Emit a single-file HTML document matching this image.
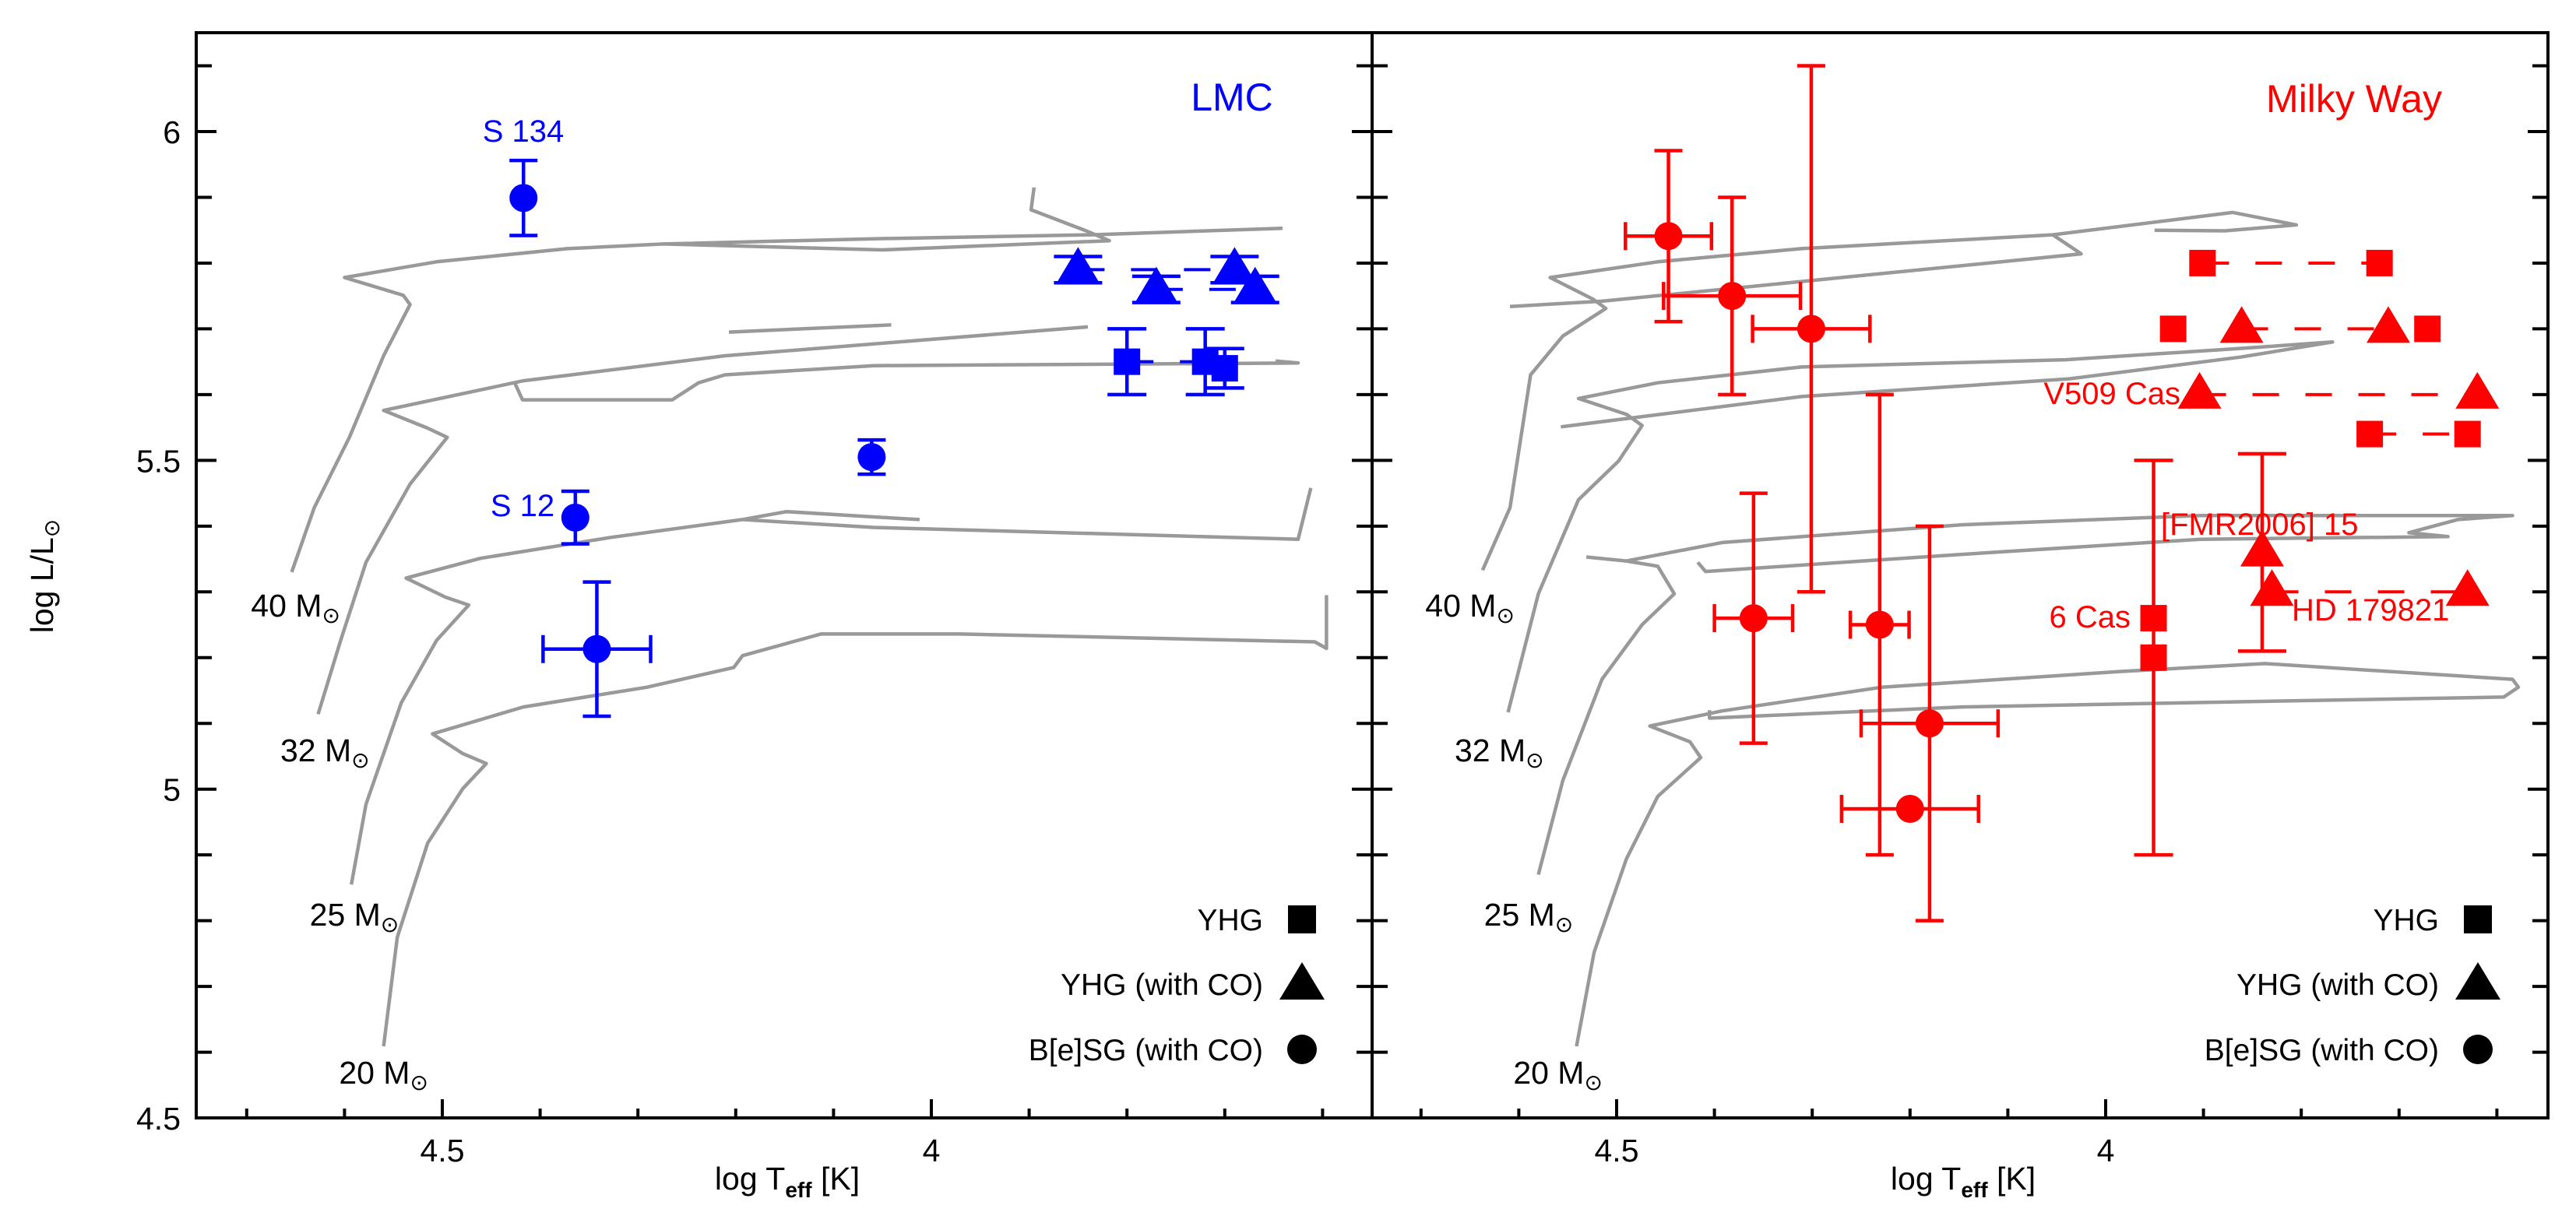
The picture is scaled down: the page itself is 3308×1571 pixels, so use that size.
<!DOCTYPE html>
<html><head><meta charset="utf-8"><style>
html,body{margin:0;padding:0;background:#fff;}
svg{display:block;font-family:"Liberation Sans",sans-serif;}
</style></head><body>
<svg id="chart" width="3308" height="1571" viewBox="0 0 3308 1571" xmlns="http://www.w3.org/2000/svg">
<g id="root"></g>
</svg>
<script>
// ---------- data (log Teff, log L/Lsun) ----------
// LMC
const lmcCircT = [4.417, 4.364, 4.342, 4.061];
const lmcCircL = [5.899, 5.413, 5.213, 5.505];
const lmcCircLerr = [0.057, 0.040, 0.102, 0.026];
const lmcCircTerr = [0, 0, 0.055, 0];
const lmcTriT = [3.850, 3.770, 3.690, 3.669];
const lmcTriL = [5.790, 5.760, 5.790, 5.760];
const lmcTriLerr = [0.02, 0.02, 0.02, 0.02];
const lmcSqT = [3.800, 3.720, 3.700];
const lmcSqL = [5.650, 5.650, 5.640];
const lmcSqLerr = [0.05, 0.05, 0.03];
const lmcPairs = [[3.850, 3.690, 5.790], [3.770, 3.669, 5.760], [3.800, 3.720, 5.650]];
// Milky Way
const mwCircT = [4.447, 4.382, 4.301, 4.360, 4.231, 4.180, 4.200];
const mwCircL = [5.841, 5.750, 5.700, 5.260, 5.250, 5.100, 4.970];
const mwCircLerr = [0.13, 0.15, 0.40, 0.19, 0.35, 0.30, 0];
const mwCircTerr = [0.044, 0.07, 0.06, 0.04, 0.03, 0.07, 0.07];
const mwSqT = [3.951, 3.951, 3.901, 3.720, 3.931, 3.671, 3.730, 3.630];
const mwSqL = [5.260, 5.200, 5.800, 5.800, 5.700, 5.700, 5.540, 5.540];
const mwSqLerr = [0, 0.30, 0, 0, 0, 0, 0, 0];
const mwTriT = [3.861, 3.711, 3.904, 3.620, 3.840, 3.830, 3.630];
const mwTriL = [5.700, 5.700, 5.600, 5.600, 5.360, 5.300, 5.300];
const mwTriLerr = [0, 0, 0, 0, 0.15, 0, 0];
const mwPairs = [[3.901, 3.720, 5.800], [3.861, 3.711, 5.700], [3.904, 3.620, 5.600], [3.730, 3.630, 5.540], [3.830, 3.630, 5.300]];
// evolutionary tracks
const lmcTracks = [
 [[4.654,5.330],[4.631,5.428],[4.595,5.535],[4.560,5.659],[4.533,5.737],[4.540,5.751],[4.600,5.778],[4.506,5.802],[4.372,5.822],[4.274,5.829],[4.059,5.837],[3.836,5.843],[3.641,5.853]],
 [[4.274,5.829],[4.050,5.820],[3.818,5.834],[3.840,5.848],[3.898,5.881],[3.895,5.915]],
 [[4.627,5.114],[4.604,5.226],[4.578,5.345],[4.533,5.464],[4.495,5.535],[4.515,5.549],[4.560,5.576],[4.417,5.621],[4.211,5.659],[3.840,5.703]],
 [[4.426,5.618],[4.418,5.592],[4.265,5.592],[4.238,5.618],[4.211,5.630],[4.059,5.644],[3.625,5.648],[3.648,5.651]],
 [[4.207,5.695],[4.041,5.706]],
 [[4.593,4.855],[4.578,4.977],[4.542,5.131],[4.506,5.226],[4.473,5.280],[4.497,5.292],[4.537,5.321],[4.461,5.351],[4.327,5.383],[4.193,5.410],[4.148,5.422],[4.059,5.414],[4.012,5.410]],
 [[4.193,5.410],[4.059,5.398],[3.625,5.380],[3.619,5.416],[3.612,5.458]],
 [[4.560,4.609],[4.546,4.775],[4.515,4.918],[4.479,5.001],[4.455,5.039],[4.479,5.054],[4.510,5.084],[4.417,5.125],[4.291,5.155],[4.202,5.185],[4.193,5.203],[4.113,5.236],[3.970,5.236],[3.608,5.224],[3.596,5.214],[3.596,5.295]]
];
const mwTracks = [
 [[4.637,5.333],[4.609,5.428],[4.588,5.630],[4.555,5.689],[4.511,5.731],[4.524,5.745],[4.568,5.778],[4.458,5.802],[4.311,5.822],[4.054,5.843],[3.870,5.877],[3.805,5.858],[3.878,5.849],[3.950,5.850]],
 [[4.609,5.734],[4.515,5.742],[4.311,5.772],[4.025,5.814],[4.054,5.843]],
 [[4.611,5.117],[4.580,5.297],[4.539,5.440],[4.498,5.499],[4.474,5.553],[4.490,5.570],[4.539,5.594],[4.458,5.618],[4.311,5.642],[4.041,5.653],[3.854,5.671],[3.768,5.680],[3.862,5.657],[4.037,5.624],[4.311,5.597],[4.557,5.551]],
 [[4.580,4.870],[4.555,5.013],[4.515,5.167],[4.474,5.250],[4.441,5.297],[4.458,5.339],[4.490,5.347],[4.531,5.353]],
 [[4.490,5.347],[4.392,5.375],[4.147,5.402],[3.903,5.416],[3.584,5.416],[3.640,5.410],[3.690,5.390],[3.650,5.384],[3.903,5.380],[4.147,5.357],[4.409,5.331],[4.417,5.345]],
 [[4.541,4.609],[4.523,4.752],[4.490,4.894],[4.458,4.989],[4.414,5.048],[4.425,5.072],[4.466,5.096],[4.392,5.119],[4.229,5.155],[3.984,5.179],[3.837,5.191],[3.584,5.167],[3.578,5.155],[3.593,5.140],[3.821,5.134],[4.147,5.125],[4.405,5.108],[4.405,5.120]]
];
const xTicksMajor = [4.5, 4.0];
const xTickLabels = ["4.5", "4"];
const yTicksMajor = [4.5, 5.0, 5.5, 6.0];
const yTickLabels = ["4.5", "5", "5.5", "6"];
const massLabels = ["40", "32", "25", "20"];

// ---------- axes ----------
const NS = "http://www.w3.org/2000/svg";
const root = document.getElementById('root');
const TOP = 42, BOT = 1436;
const yS = L => 169 + (6 - L) * 844.7;
const xL = T => 1196 + (4 - T) * 1256;
const xR = T => 2704 + (4 - T) * 1256;
function mk(tag, attrs, parent) {
  const e = document.createElementNS(NS, tag);
  for (const k in attrs) e.setAttribute(k, attrs[k]);
  (parent || root).appendChild(e);
  return e;
}
function txt(x, y, s, size, fill, anchor, parent) {
  const t = mk('text', {x: x, y: y, 'font-size': size, fill: fill, 'text-anchor': anchor || 'middle'}, parent);
  t.textContent = s;
  return t;
}

function panel(name, xf, x0, x1, color, circT, circL, circLe, circTe, sqT, sqL, sqLe, triT, triL, triLe, pairs, tracks) {
  const g = mk('g', {});
  
  
  const tg = mk('g', {fill: 'none', stroke: '#999999', 'stroke-width': 4.5, 'stroke-linejoin': 'round'}, g);
  
  
  tracks.forEach(tr => {
    const p = mk('polyline', {points: tr.map(q => xf(q[0]).toFixed(1) + ',' + yS(q[1]).toFixed(1)).join(' ')}, tg);
    
    
  });
  const ml = [[4.65, 5.28], [4.62, 5.06], [4.59, 4.81], [4.56, 4.57]];
  massLabels.forEach((m, i) => {
    const t = mk('text', {x: xf(ml[i][0]), y: yS(ml[i][1]) + 15, 'font-size': 41, fill: '#000', 'text-anchor': 'middle'}, g);
    
    
    t.textContent = m + ' M';
    const s = mk('tspan', {'font-size': 28, dy: 8}, t);
    s.textContent = '⊙';
  });
  const dg = mk('g', {stroke: color, 'stroke-width': 4, 'stroke-dasharray': '34 34'}, g);
  
  
  pairs.forEach(p => {
    const l = mk('line', {x1: xf(p[0]), y1: yS(p[2]), x2: xf(p[1]), y2: yS(p[2])}, dg);
    
    
  });
  const eg = mk('g', {stroke: color, 'stroke-width': 4.5, fill: 'none'}, g);
  
  
  function err(T, L, le, te, cap) {
    const x = xf(T), y = yS(L);
    if (le > 0) {
      const ya = yS(L + le), yb = yS(L - le);
      mk('line', {x1: x, y1: ya, x2: x, y2: yb}, eg);
      mk('line', {x1: x - cap, y1: ya, x2: x + cap, y2: ya}, eg);
      mk('line', {x1: x - cap, y1: yb, x2: x + cap, y2: yb}, eg);
    }
    if (te > 0) {
      const xa = xf(T + te), xb = xf(T - te);
      mk('line', {x1: xa, y1: y, x2: xb, y2: y}, eg);
      mk('line', {x1: xa, y1: y - 18, x2: xa, y2: y + 18}, eg);
      mk('line', {x1: xb, y1: y - 18, x2: xb, y2: y + 18}, eg);
    }
  }
  circT.forEach((T, i) => {
    err(T, circL[i], circLe[i], circTe[i], 18);
    const c = mk('circle', {cx: xf(T), cy: yS(circL[i]), r: 18, fill: color}, g);
    
    
  });
  sqT.forEach((T, i) => {
    err(T, sqL[i], sqLe[i], 0, 25);
    const r = mk('rect', {x: xf(T) - 17, y: yS(sqL[i]) - 17, width: 34, height: 34, fill: color}, g);
    
    
  });
  triT.forEach((T, i) => {
    err(T, triL[i], triLe[i], 0, 31);
    const x = xf(T), y = yS(triL[i]);
    const p = mk('polygon', {points: `${x},${y - 29} ${x - 28},${y + 18} ${x + 28},${y + 18}`, fill: color}, g);
    
    
  });
  const ax = mk('g', {stroke: '#000', 'stroke-width': 4}, g);
  
  
  mk('rect', {x: x0, y: TOP, width: x1 - x0, height: BOT - TOP, fill: 'none'}, ax);
  for (let k = 36; k <= 47; k++) {
    const T = k / 10, x = xf(T);
    if (x < x0 + 2 || x > x1 - 2) continue;
    const major = (k % 5 === 0);
    mk('line', {x1: x, y1: BOT, x2: x, y2: BOT - (major ? 24 : 12)}, ax);
  }
  for (let k = 45; k <= 61; k++) {
    const y = yS(k / 10);
    const len = (k % 5 === 0) ? 26 : 20;
    mk('line', {x1: x0, y1: y, x2: x0 + len, y2: y}, ax);
    mk('line', {x1: x1, y1: y, x2: x1 - len, y2: y}, ax);
  }
  xTicksMajor.forEach((T, i) => {
    const t = txt(xf(T), BOT + 56, xTickLabels[i], 41, '#000', 'middle', g);
    
    
  });
  const xt = mk('text', {x: (x0 + x1) / 2 + 4, y: 1528, 'font-size': 41, fill: '#000', 'text-anchor': 'middle'}, g);
  
  
  xt.textContent = 'log T';
  const sb = mk('tspan', {'font-size': 28, dy: 10, 'font-weight': 'bold'}, xt); sb.textContent = 'eff';
  const rs = mk('tspan', {dy: -10}, xt); rs.textContent = ' [K]';
  const lx = x1 - 90, tx = x1 - 140;
  const lg = mk('g', {}, g);
  
  
  [['YHG', 1181], ['YHG (with CO)', 1264], ['B[e]SG (with CO)', 1348]].forEach((e, i) => {
    const t = txt(tx, e[1] + 14, e[0], 39, '#000', 'end', lg);
    
    
  });
  mk('rect', {x: lx - 18, y: 1163, width: 36, height: 36, fill: '#000'}, lg);
  mk('polygon', {points: `${lx},${1236} ${lx - 29},${1284} ${lx + 29},${1284}`, fill: '#000'}, lg);
  mk('circle', {cx: lx, cy: 1348, r: 19, fill: '#000'}, lg);
  return g;
}

const gl = panel('lmc', xL, 252, 1762, '#0000ff', lmcCircT, lmcCircL, lmcCircLerr, lmcCircTerr, lmcSqT, lmcSqL, lmcSqLerr, lmcTriT, lmcTriL, lmcTriLerr, lmcPairs, lmcTracks);
const gr = panel('milky-way', xR, 1762, 3272, '#ff0000', mwCircT, mwCircL, mwCircLerr, mwCircTerr, mwSqT, mwSqL, mwSqLerr, mwTriT, mwTriL, mwTriLerr, mwPairs, mwTracks);

yTicksMajor.forEach((L, i) => {
  const t = txt(232, yS(L) + 15, yTickLabels[i], 41, '#000', 'end');
  
  
});
const yt = mk('text', {x: 0, y: 0, 'font-size': 41, fill: '#000', 'text-anchor': 'middle', transform: 'translate(68,740) rotate(-90)'});


yt.textContent = 'log L/L';
const ys = mk('tspan', {'font-size': 28, dy: 8}, yt); ys.textContent = '⊙';

function label(x, y, s, size, color, anchor, name) {
  const t = txt(x, y, s, size, color, anchor);
  
  
}
label(1582, 142, 'LMC', 50, '#0000ff', 'middle', 'lmc-title');
label(3023, 144, 'Milky Way', 50, '#ff0000', 'middle', 'milky-way-title');
label(672, 182, 'S 134', 40, '#0000ff', 'middle', 's134-label');
label(671, 663, 'S 12', 40, '#0000ff', 'middle', 's12-label');
label(2800, 519, 'V509 Cas', 40, '#ff0000', 'end', 'v509-cas-label');
label(2775, 687, '[FMR2006] 15', 40, '#ff0000', 'start', 'fmr2006-15-label');
label(2736, 806, '6 Cas', 40, '#ff0000', 'end', '6-cas-label');
label(2943, 797, 'HD 179821', 40, '#ff0000', 'start', 'hd179821-label');
</script>
</body></html>
